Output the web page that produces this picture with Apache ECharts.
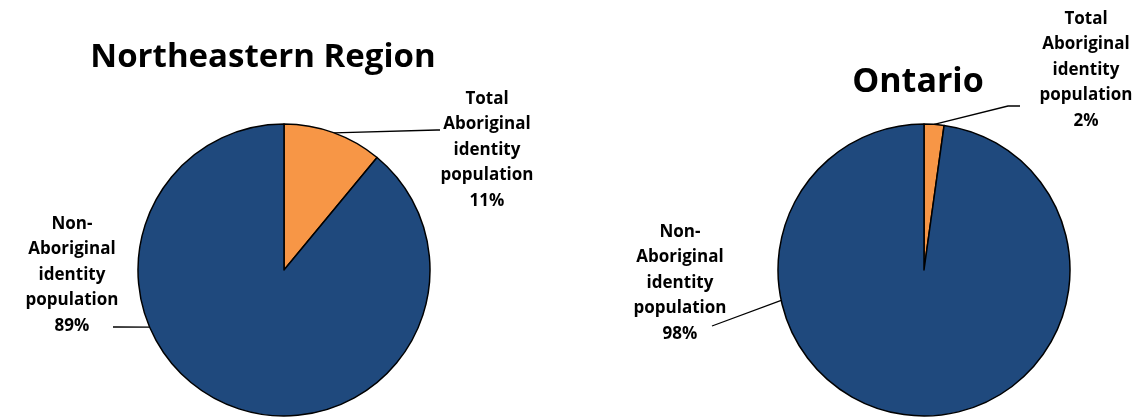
<!DOCTYPE html>
<html><head><meta charset="utf-8">
<script src="https://cdn.jsdelivr.net/npm/echarts@6/dist/echarts.min.js"></script>
<style>html,body{margin:0;padding:0;background:#fff}#c{width:1143px;height:417px}</style>
</head><body><div id="c"></div>
<script>
const categories = ['Total\nAboriginal\nidentity\npopulation', 'Non-\nAboriginal\nidentity\npopulation'];
const chartTitles = ['Northeastern Region', 'Ontario'];
const northeasternValues = [11, 89];
const ontarioValues = [2.2, 97.8];
const colors = ['#F79646', '#1F497D'];

const FONT = '"Open Sans", Lato, sans-serif';
const R = 146;
const centers = [[284, 270], [924, 270]];
// label placement: text centre, leader anchor angle on the rim (deg clockwise from top), leader end points
const labelPos = [
  [{x: 487, y: 150, ang: 20, ends: [[437, 130], [440, 130]]},
   {x: 72, y: 275, ang: 247, ends: [[116, 327], [113, 327]]}],
  [{x: 1086, y: 70, ang: 4, ends: [[1008, 106], [1020, 106]]},
   {x: 680, y: 283, ang: 258, ends: [[712, 326], [712, 326]]}]
];
function mkData(vals) {
  return vals.map((v, i) => ({name: categories[i], value: v, itemStyle: {color: colors[i]}}));
}
function mkSeries(vals, idx) {
  const c = centers[idx];
  return {
    type: 'pie',
    center: c,
    radius: R,
    startAngle: 90,
    clockwise: true,
    percentPrecision: 0,
    animation: false,
    data: mkData(vals),
    itemStyle: {borderColor: '#000', borderWidth: 1.5},
    label: {
      show: true,
      formatter: '{b}\n{d}%',
      fontFamily: FONT,
      fontWeight: 'bold',
      fontSize: 17,
      lineHeight: 25.5,
      color: '#000',
      align: 'center'
    },
    labelLine: {show: true, lineStyle: {color: '#000', width: 1.3}},
    labelLayout: function (p) {
      const pos = labelPos[idx][p.dataIndex];
      const a = pos.ang * Math.PI / 180;
      const start = [c[0] + R * Math.sin(a), c[1] - R * Math.cos(a)];
      return {x: pos.x, y: pos.y, align: 'center', verticalAlign: 'middle',
              labelLinePoints: [start, pos.ends[0], pos.ends[1]]};
    },
    emphasis: {disabled: true}
  };
}
const chart = echarts.init(document.getElementById('c'));
chart.setOption({
  backgroundColor: '#fff',
  title: [
    {text: chartTitles[0], left: 258, top: 36, textAlign: 'center',
     textStyle: {fontFamily: FONT, fontWeight: 'bold', fontSize: 33, color: '#000'}},
    {text: chartTitles[1], left: 913, top: 60, textAlign: 'center',
     textStyle: {fontFamily: FONT, fontWeight: 'bold', fontSize: 34, color: '#000'}}
  ],
  series: [
    mkSeries(northeasternValues, 0),
    mkSeries(ontarioValues, 1)
  ]
});
</script></body></html>
